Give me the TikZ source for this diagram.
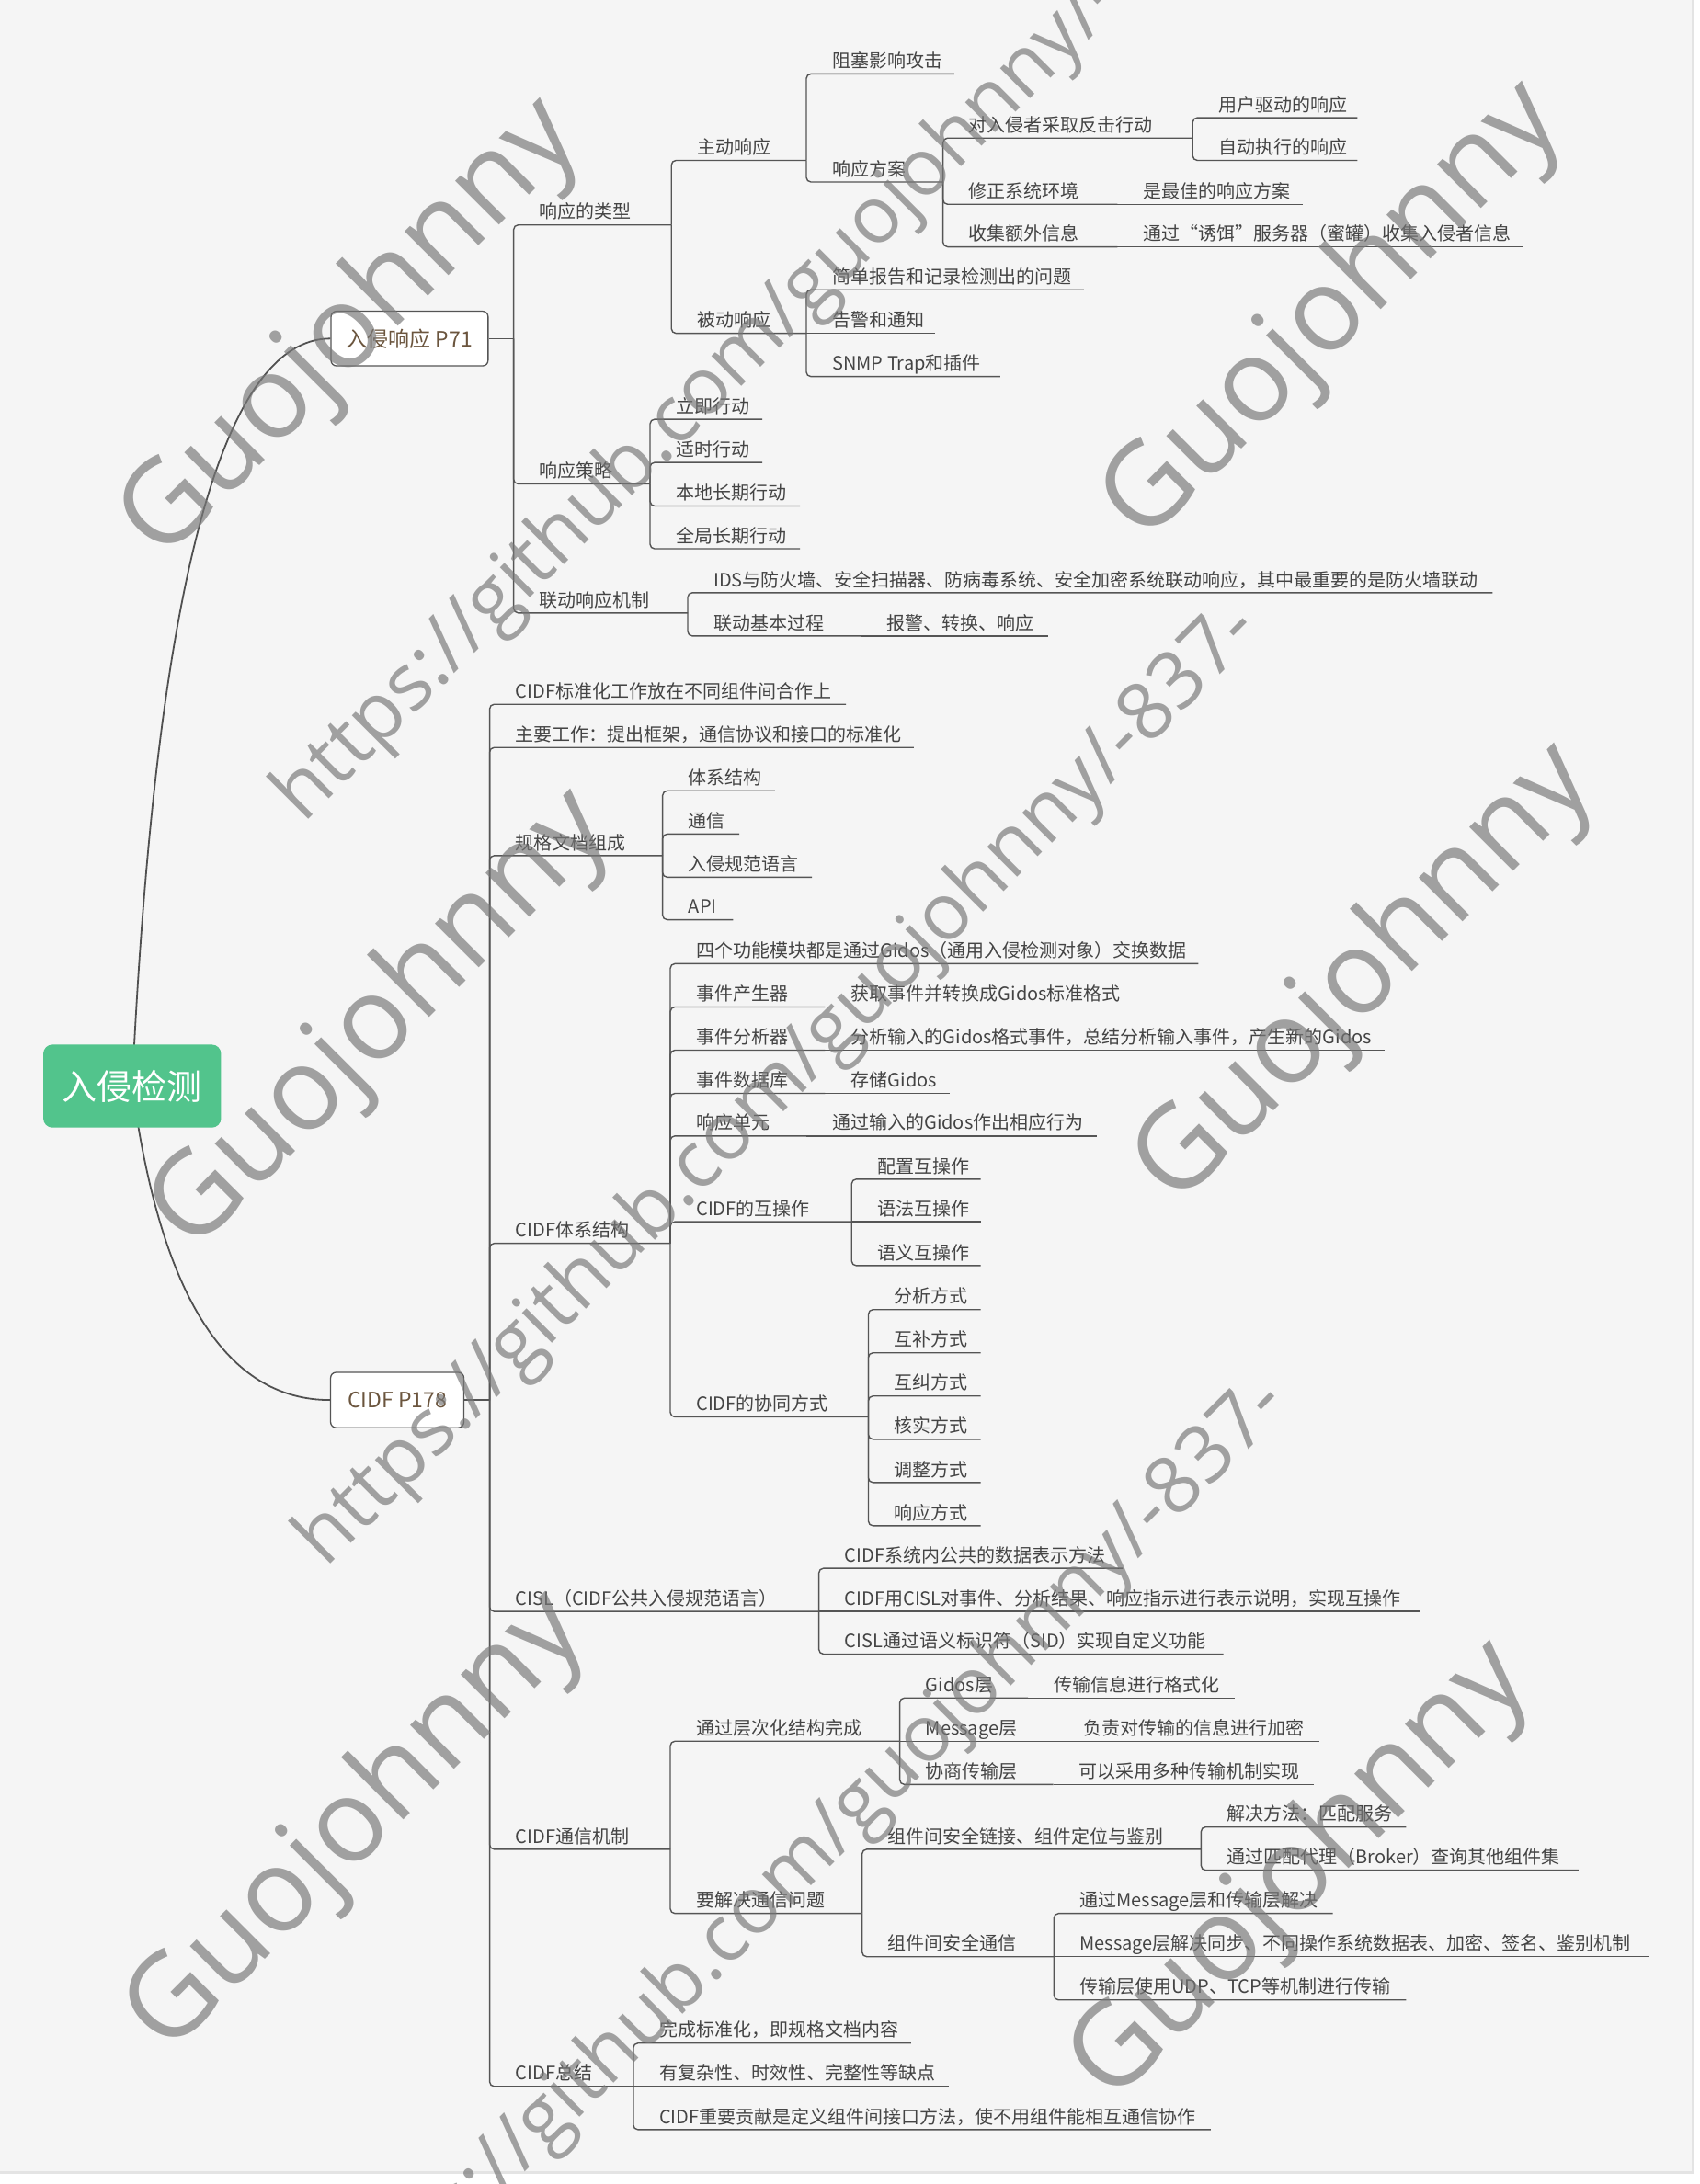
\documentclass[tikz,border=0pt]{standalone}
\usepackage{fontspec}
\newfontfamily\cjk{Noto Sans CJK SC}
\newfontfamily\wmfont{Open Sans}
\pgfdeclarelayer{back}
\pgfdeclarelayer{bg}
\pgfsetlayers{back,bg,main}
\definecolor{bgpanel}{RGB}{245,245,245}
\definecolor{shadowc}{RGB}{228,228,228}
\definecolor{linec}{RGB}{85,85,85}
\definecolor{curvecol}{RGB}{80,80,80}
\definecolor{txtc}{RGB}{68,68,68}
\definecolor{brownc}{RGB}{107,85,62}
\definecolor{rootg}{RGB}{82,196,140}
\definecolor{wmc}{RGB}{120,120,120}
\tikzset{
  conn/.style={draw=linec, line width=1.4pt, rounded corners=5pt},
  curvec/.style={draw=curvecol, line width=1.8pt},
  txt/.style={anchor=base west, inner sep=0pt, text=txtc, font=\cjk\fontsize{20}{24}\selectfont},
  boxnode/.style={draw=linec, line width=1.3pt, fill=white, rounded corners=6pt, text=brownc, inner sep=0pt, font=\cjk\fontsize{23}{27}\selectfont},
  rootnode/.style={fill=rootg, rounded corners=10pt, text=white, inner sep=0pt, minimum width=193.4pt, minimum height=90.3pt, font=\cjk\fontsize{38}{40}\selectfont},
  wmark/.style={text=wmc, text opacity=0.68, rotate=45, inner sep=0pt, font=\wmfont\fontsize{126}{126}\selectfont},
  wmurl/.style={text=wmc, text opacity=0.68, rotate=45, inner sep=0pt, font=\wmfont\fontsize{86}{86}\selectfont}
}
\newcommand\mtopic[5]{%
  \coordinate (#1-s) at (#2,#3);
  \coordinate (#1-e) at (#4,#3);
  \node[txt] (#1) at ({#2+18.5},{#3-4.5}) {#5};
}
\newcommand\linkv[2]{\draw[conn] (#1-e) |- (#2-e);}
\newcommand\links[2]{\draw[conn] (#1-e) -- (#2-e);}
\begin{document}
\begin{tikzpicture}[x=1.5172pt,y=-1.5172pt]
\useasboundingbox (0,0) rectangle (1218,1566);
\begin{pgfonlayer}{back}
  \fill[white] (0,0) rectangle (1218,1566);
  \fill[shadowc] (0,0) rectangle (1214.5,1558.5);
  \fill[bgpanel] (0,0) rectangle (1212.5,1556.5);
\end{pgfonlayer}

% central and main topics
\node[rootnode] (root) at (94.75,778.75) {入侵检测};
\node[boxnode, minimum width=170.8pt, minimum height=59.5pt] (box1) at (293.6,242.75) {入侵响应 P71};
\node[boxnode, minimum width=144.9pt, minimum height=60.2pt] (box2) at (284.75,1003.85) {CIDF P178};
\coordinate (b1v) at (368.2,242.75);
\coordinate (b2v) at (351,1003.85);

\begin{pgfonlayer}{bg}
  \draw[curvec] (root.center) .. controls (111.6,421.6) and (159,242.8) .. (box1.west);
  \draw[curvec] (root.center) .. controls (114.9,928.9) and (162.3,1003.9) .. (box2.west);
\end{pgfonlayer}

% ---------- 入侵响应 P71 ----------
\mtopic{t1}{368.2}{161.3}{481.3}{响应的类型}
\mtopic{t11}{481.3}{115}{578}{主动响应}
\mtopic{t111}{578}{53}{684}{阻塞影响攻击}
\mtopic{t112}{578}{130.5}{676}{响应方案}
\mtopic{t1121}{676}{99}{855}{对入侵者采取反击行动}
\mtopic{t11211}{855}{84.4}{973}{用户驱动的响应}
\mtopic{t11212}{855}{115}{973}{自动执行的响应}
\mtopic{t1122}{676}{146.5}{801}{修正系统环境}
\mtopic{t11221}{801}{146.5}{934}{是最佳的响应方案}
\mtopic{t1123}{676}{177}{801}{收集额外信息}
\mtopic{t11231}{801}{177}{1092}{通过“诱饵”服务器（蜜罐）收集入侵者信息}
\mtopic{t12}{481.3}{239}{578}{被动响应}
\mtopic{t121}{578}{207.8}{777}{简单报告和记录检测出的问题}
\mtopic{t122}{578}{239}{670}{告警和通知}
\mtopic{t123}{578}{270}{717}{SNMP Trap和插件}
\mtopic{t2}{368.2}{347}{466}{响应策略}
\mtopic{t21}{466}{300.6}{546.5}{立即行动}
\mtopic{t22}{466}{331.6}{546.5}{适时行动}
\mtopic{t23}{466}{362.8}{573.5}{本地长期行动}
\mtopic{t24}{466}{393.5}{573.5}{全局长期行动}
\mtopic{t3}{368.2}{439.5}{493}{联动响应机制}
\mtopic{t31}{493}{425}{1070}{IDS与防火墙、安全扫描器、防病毒系统、安全加密系统联动响应，其中最重要的是防火墙联动}
\mtopic{t32}{493}{456}{617}{联动基本过程}
\mtopic{t321}{617}{456}{751.5}{报警、转换、响应}

\draw[conn] (box1.east) -- (b1v);
\draw[conn] (b1v) |- (t1-e);
\draw[conn] (b1v) |- (t2-e);
\draw[conn] (b1v) |- (t3-e);
\linkv{t1}{t11} \linkv{t1}{t12}
\linkv{t11}{t111} \linkv{t11}{t112}
\linkv{t112}{t1121} \linkv{t112}{t1122} \linkv{t112}{t1123}
\linkv{t1121}{t11211} \linkv{t1121}{t11212}
\links{t1122}{t11221} \links{t1123}{t11231}
\linkv{t12}{t121} \links{t12}{t122} \linkv{t12}{t123}
\linkv{t2}{t21} \linkv{t2}{t22} \linkv{t2}{t23} \linkv{t2}{t24}
\linkv{t3}{t31} \linkv{t3}{t32} \links{t32}{t321}

% ---------- CIDF P178 ----------
\mtopic{c1}{351}{505}{606.5}{CIDF标准化工作放在不同组件间合作上}
\mtopic{c2}{351}{536}{655}{主要工作：提出框架，通信协议和接口的标准化}
\mtopic{c3}{351}{613.5}{475}{规格文档组成}
\mtopic{c31}{475}{567}{555.5}{体系结构}
\mtopic{c32}{475}{598}{530}{通信}
\mtopic{c33}{475}{629}{582}{入侵规范语言}
\mtopic{c34}{475}{659.5}{525.5}{API}
\mtopic{c4}{351}{891.5}{480.5}{CIDF体系结构}
\mtopic{c41}{480.5}{691}{859}{四个功能模块都是通过Gidos（通用入侵检测对象）交换数据}
\mtopic{c42}{480.5}{722}{591.5}{事件产生器}
\mtopic{c421}{591.5}{722}{812}{获取事件并转换成Gidos标准格式}
\mtopic{c43}{480.5}{753}{591.5}{事件分析器}
\mtopic{c431}{591.5}{753}{992.5}{分析输入的Gidos格式事件，总结分析输入事件，产生新的Gidos}
\mtopic{c44}{480.5}{784}{591.5}{事件数据库}
\mtopic{c441}{591.5}{784}{681}{存储Gidos}
\mtopic{c45}{480.5}{814.5}{578}{响应单元}
\mtopic{c451}{578}{814.5}{786.5}{通过输入的Gidos作出相应行为}
\mtopic{c46}{480.5}{876}{610.5}{CIDF的互操作}
\mtopic{c461}{610.5}{845.5}{703}{配置互操作}
\mtopic{c462}{610.5}{876}{703}{语法互操作}
\mtopic{c463}{610.5}{907.5}{703}{语义互操作}
\mtopic{c47}{480.5}{1016}{622.5}{CIDF的协同方式}
\mtopic{c471}{622.5}{939}{703}{分析方式}
\mtopic{c472}{622.5}{970}{703}{互补方式}
\mtopic{c473}{622.5}{1001}{703}{互纠方式}
\mtopic{c474}{622.5}{1032}{703}{核实方式}
\mtopic{c475}{622.5}{1063}{703}{调整方式}
\mtopic{c476}{622.5}{1094}{703}{响应方式}
\mtopic{c5}{351}{1155.5}{587}{CISL（CIDF公共入侵规范语言）}
\mtopic{c51}{587}{1124.5}{805}{CIDF系统内公共的数据表示方法}
\mtopic{c52}{587}{1155.5}{1018}{CIDF用CISL对事件、分析结果、响应指示进行表示说明，实现互操作}
\mtopic{c53}{587}{1186}{877}{CISL通过语义标识符（SID）实现自定义功能}
\mtopic{c6}{351}{1326}{480.5}{CIDF通信机制}
\mtopic{c61}{480.5}{1248.5}{645}{通过层次化结构完成}
\mtopic{c611}{645}{1217.5}{737}{Gidos层}
\mtopic{c6111}{737}{1217.5}{885}{传输信息进行格式化}
\mtopic{c612}{645}{1248.5}{758}{Message层}
\mtopic{c6121}{758}{1248.5}{945.5}{负责对传输的信息进行加密}
\mtopic{c613}{645}{1279.5}{755}{协商传输层}
\mtopic{c6131}{755}{1279.5}{942}{可以采用多种传输机制实现}
\mtopic{c62}{480.5}{1372}{618}{要解决通信问题}
\mtopic{c621}{618}{1326}{861}{组件间安全链接、组件定位与鉴别}
\mtopic{c6211}{861}{1310}{1008}{解决方法：匹配服务}
\mtopic{c6212}{861}{1341}{1131.5}{通过匹配代理（Broker）查询其他组件集}
\mtopic{c622}{618}{1403}{755.5}{组件间安全通信}
\mtopic{c6221}{755.5}{1372}{955.5}{通过Message层和传输层解决}
\mtopic{c6222}{755.5}{1403}{1182}{Message层解决同步、不同操作系统数据表、加密、签名、鉴别机制}
\mtopic{c6223}{755.5}{1434}{1008}{传输层使用UDP、TCP等机制进行传输}
\mtopic{c7}{351}{1496}{454}{CIDF总结}
\mtopic{c71}{454}{1465}{653}{完成标准化，即规格文档内容}
\mtopic{c72}{454}{1496}{680}{有复杂性、时效性、完整性等缺点}
\mtopic{c73}{454}{1527}{868}{CIDF重要贡献是定义组件间接口方法，使不用组件能相互通信协作}

\draw[conn] (box2.east) -- (b2v);
\foreach \k in {c1,c2,c3,c4,c5,c6,c7}{\draw[conn] (b2v) |- (\k-e);}
\linkv{c3}{c31} \linkv{c3}{c32} \linkv{c3}{c33} \linkv{c3}{c34}
\linkv{c4}{c41} \linkv{c4}{c42} \linkv{c4}{c43} \linkv{c4}{c44} \linkv{c4}{c45} \linkv{c4}{c46} \linkv{c4}{c47}
\links{c42}{c421} \links{c43}{c431} \links{c44}{c441} \links{c45}{c451}
\linkv{c46}{c461} \links{c46}{c462} \linkv{c46}{c463}
\linkv{c47}{c471} \linkv{c47}{c472} \linkv{c47}{c473} \linkv{c47}{c474} \linkv{c47}{c475} \linkv{c47}{c476}
\linkv{c5}{c51} \links{c5}{c52} \linkv{c5}{c53}
\linkv{c6}{c61} \linkv{c6}{c62}
\linkv{c61}{c611} \links{c61}{c612} \linkv{c61}{c613}
\links{c611}{c6111} \links{c612}{c6121} \links{c613}{c6131}
\linkv{c62}{c621} \linkv{c62}{c622}
\linkv{c621}{c6211} \linkv{c621}{c6212}
\linkv{c622}{c6221} \links{c622}{c6222} \linkv{c622}{c6223}
\linkv{c7}{c71} \links{c7}{c72} \linkv{c7}{c73}

% ---------- watermarks ----------
\node[wmark] (wmA) at (252,237) {Guojohnny};
\node[wmark] (wmC) at (956,225) {Guojohnny};
\node[wmark] (wmD) at (274,733) {Guojohnny};
\node[wmark] (wmF) at (979,700) {Guojohnny};
\node[wmark] (wmG) at (256,1308) {Guojohnny};
\node[wmark] (wmI) at (933,1343) {Guojohnny};
\node[wmurl] (wmU1) at (543,245) {https://github.com/guojohnny/-837-};
\node[wmurl] (wmU2) at (559,779) {https://github.com/guojohnny/-837-};
\node[wmurl] (wmU3) at (579,1334) {https://github.com/guojohnny/-837-};
\end{tikzpicture}
\end{document}
